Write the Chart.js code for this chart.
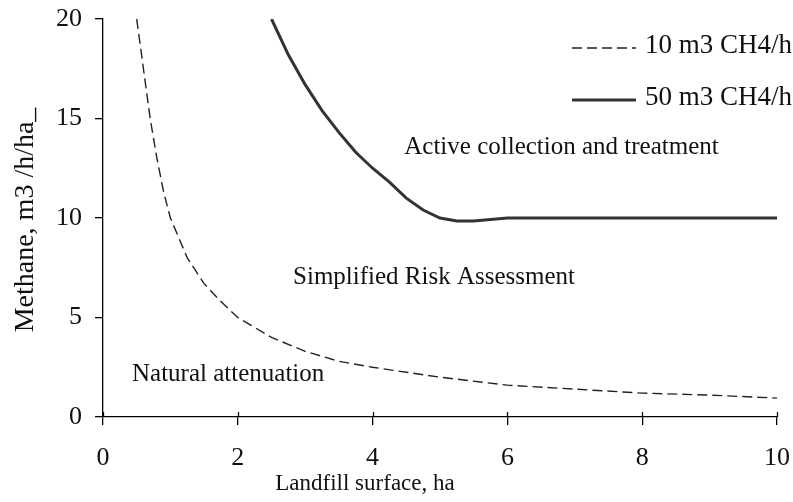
<!DOCTYPE html>
<html>
<head>
<meta charset="utf-8">
<script src="https://cdn.jsdelivr.net/npm/chart.js@4.4.1/dist/chart.umd.min.js"></script>
<style>
  html, body { margin: 0; padding: 0; background: #fff; }
  #wrap { width: 793px; height: 502px; }
</style>
</head>
<body>
<div id="wrap"><canvas id="chart" width="793" height="502"></canvas></div>
<script>
// landfill surface (ha) vs methane flux limit (m3/h/ha)
const xLow = [0.5, 0.6, 0.7, 0.8, 0.9, 1, 1.25, 1.5, 1.75, 2, 2.5, 3, 3.5, 4, 5, 6, 7, 8, 9, 10];
const yLow = [20, 17.5, 15, 13, 11.3, 10, 8, 6.7, 5.8, 5, 4, 3.3, 2.8, 2.5, 2, 1.6, 1.4, 1.2, 1.1, 0.95];

const xHigh = [2.5, 2.75, 3, 3.25, 3.5, 3.75, 4, 4.25, 4.5, 4.75, 5, 5.25, 5.5, 6, 7, 8, 9, 10];
const yHigh = [20, 18.2, 16.7, 15.4, 14.3, 13.3, 12.5, 11.8, 11, 10.4, 10, 9.85, 9.85, 10, 10, 10, 10, 10];

const seriesNames = ['10 m3 CH4/h', '50 m3 CH4/h'];
const xTicks = [0, 2, 4, 6, 8, 10];
const yTicks = [0, 5, 10, 15, 20];

const regionLabels = ['Active collection and treatment', 'Simplified Risk Assessment', 'Natural attenuation'];
const xTitle = 'Landfill surface, ha';
const yTitle = 'Methane, m3 /h/ha_';

const FONT = "'Liberation Serif', 'Times New Roman', serif";
const INK = '#111';

function pts(xs, ys) {
  return xs.map((x, i) => ({ x: x, y: ys[i] }));
}

const overlay = {
  id: 'overlay',
  afterDraw(chart) {
    const ctx = chart.ctx;
    const xs = chart.scales.x, ys = chart.scales.y;
    const ca = chart.chartArea;
    ctx.save();

    // x tick marks poke a little above the axis too
    ctx.strokeStyle = '#000';
    ctx.lineWidth = 1.3;
    xTicks.forEach(v => {
      const px = Math.round(xs.getPixelForValue(v)) + 0.5;
      ctx.beginPath();
      ctx.moveTo(px, ys.bottom);
      ctx.lineTo(px, ys.bottom - 5);
      ctx.stroke();
    });

    // region labels
    ctx.fillStyle = INK;
    ctx.font = '25px ' + FONT;
    ctx.textBaseline = 'alphabetic';
    ctx.textAlign = 'left';
    ctx.fillText(regionLabels[0], xs.getPixelForValue(4.47), ys.getPixelForValue(13.2));
    ctx.fillText(regionLabels[1], xs.getPixelForValue(2.82), ys.getPixelForValue(6.7));
    ctx.fillText(regionLabels[2], xs.getPixelForValue(0.43), ys.getPixelForValue(1.8));

    // axis titles
    ctx.font = '23px ' + FONT;
    ctx.textAlign = 'center';
    ctx.fillText(xTitle, 365, 490);
    ctx.save();
    ctx.translate(33, 220);
    ctx.rotate(-Math.PI / 2);
    ctx.font = '28px ' + FONT;
    ctx.fillText(yTitle, 0, 0);
    ctx.restore();

    // legend, top right
    const lx0 = ca.right - 205, lx1 = ca.right - 141, tx = ca.right - 132;
    const rows = [ca.top + 29, ca.top + 81];
    ctx.font = '27px ' + FONT;
    ctx.textAlign = 'left';
    ctx.textBaseline = 'middle';
    chart.data.datasets.forEach((ds, i) => {
      ctx.strokeStyle = ds.borderColor;
      ctx.lineWidth = ds.borderWidth;
      ctx.setLineDash(ds.borderDash || []);
      ctx.beginPath();
      ctx.moveTo(lx0, rows[i]);
      ctx.lineTo(lx1, rows[i]);
      ctx.stroke();
      ctx.setLineDash([]);
      ctx.fillStyle = INK;
      ctx.fillText(ds.label, tx, rows[i] - 2);
    });
    ctx.restore();
  }
};

new Chart(document.getElementById('chart'), {
  type: 'scatter',
  data: {
    datasets: [
      {
        label: seriesNames[0],
        data: pts(xLow, yLow),
        showLine: true,
        borderColor: '#222',
        borderWidth: 1.4,
        borderDash: [10, 5],
        pointRadius: 0,
        tension: 0
      },
      {
        label: seriesNames[1],
        data: pts(xHigh, yHigh),
        showLine: true,
        borderColor: '#333',
        borderWidth: 3,
        pointRadius: 0,
        tension: 0
      }
    ]
  },
  options: {
    responsive: false,
    animation: false,
    layout: { padding: { top: 19, right: 16, left: 0, bottom: 0 } },
    plugins: {
      legend: { display: false },
      tooltip: { enabled: false }
    },
    scales: {
      x: {
        type: 'linear',
        min: 0,
        max: 10,
        afterBuildTicks: s => { s.ticks = xTicks.map(v => ({ value: v })); },
        // fixed box; don't let the end labels push the plot inwards
        afterFit: s => { s.height = 85; s.paddingLeft = 0; s.paddingRight = 0; },
        border: { color: '#000', width: 1.3 },
        grid: { drawOnChartArea: false, color: '#000', lineWidth: 1.3, tickLength: 8 },
        ticks: { color: INK, padding: 18, font: { family: FONT, size: 26 }, maxRotation: 0 }
      },
      y: {
        type: 'linear',
        min: 0,
        max: 20,
        afterBuildTicks: s => { s.ticks = yTicks.map(v => ({ value: v })); },
        afterFit: s => { s.width = 103; s.paddingTop = 0; s.paddingBottom = 0; },
        border: { color: '#000', width: 1.3 },
        grid: { drawOnChartArea: false, color: '#000', lineWidth: 1.3, tickLength: 8 },
        ticks: { color: INK, padding: 13, font: { family: FONT, size: 26 } }
      }
    }
  },
  plugins: [overlay]
});
</script>
</body>
</html>
